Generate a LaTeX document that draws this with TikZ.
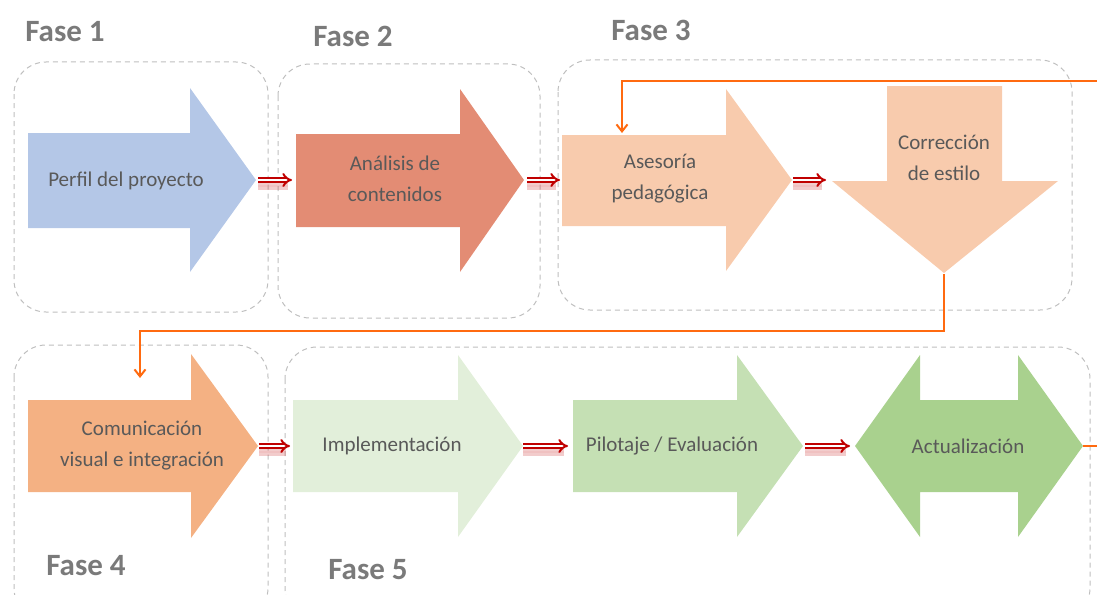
\documentclass[tikz,border=0pt]{standalone}
\usepackage{fontspec}
\setmainfont{Carlito}
\usetikzlibrary{arrows.meta}
\definecolor{boxgray}{HTML}{BFBFBF}
\definecolor{labgray}{HTML}{7A7A7A}
\definecolor{txtgray}{HTML}{595959}
\definecolor{cBlue}{HTML}{B4C7E7}
\definecolor{cRed}{HTML}{E38C74}
\definecolor{cPeach}{HTML}{F8CBAD}
\definecolor{cOrange}{HTML}{F4B183}
\definecolor{cG1}{HTML}{E2EFDA}
\definecolor{cG2}{HTML}{C5E0B4}
\definecolor{cG3}{HTML}{A9D18E}
\definecolor{linkred}{HTML}{C00000}
\definecolor{flow}{HTML}{FF6A10}
\tikzset{
  phasebox/.style={draw=boxgray, line width=1pt, dash pattern=on 5pt off 4pt, rounded corners=32pt},
  phaselab/.style={font=\fontsize{31}{33}\selectfont\bfseries, text=labgray, inner sep=0pt},
  steptext/.style={font=\fontsize{21}{31}\selectfont, text=txtgray, align=center, inner sep=0pt},
  linkarrow/.style={draw=linkred, line width=2pt, double=white, double distance=2.5pt, -{Implies[length=7pt,width=12pt]}},
  linkshadow/.style={draw=linkred, line width=3pt, opacity=0.2, double=linkred!40, double distance=2pt},
  flowline/.style={draw=flow, line width=2.5pt},
  flowarrow/.style={flowline, -{Straight Barb[length=7pt,width=11pt,line width=2pt]}}
}
\newcommand{\rarrow}[9]{%
  \fill[#9] (#1,#4) -- (#2,#4) -- (#2,#6) -- (#3,#8) -- (#2,#7) -- (#2,#5) -- (#1,#5) -- cycle;}
\begin{document}
\begin{tikzpicture}[x=1pt,y=-1pt]
\useasboundingbox (0,0) rectangle (1097,594);
% phase boxes
\draw[phasebox] (14,62) rectangle (268,312);
\draw[phasebox] (278,64) rectangle (540,318);
\draw[phasebox] (558,60) rectangle (1072,310);
\draw[phasebox] (14,345) rectangle (268,620);
\draw[phasebox] (285,347) rectangle (1090,620);
% phase labels
\node[phaselab] (f1) at (65,32) {Fase 1};
\node[phaselab] (f2) at (353,36) {Fase 2};
\node[phaselab] (f3) at (651,30) {Fase 3};
\node[phaselab] (f4) at (86,566) {Fase 4};
\node[phaselab] (f5) at (368,570) {Fase 5};
% step shapes
\rarrow{28}{190}{256}{133}{228}{88}{272}{180}{cBlue}
\rarrow{296}{460}{524}{134}{227}{89}{272}{180}{cRed}
\rarrow{562}{726}{792}{135}{226}{89}{271}{180}{cPeach}
\fill[cPeach] (887,86) -- (1002,86) -- (1002,181) -- (1058,181) -- (944,273) -- (832,181) -- (887,181) -- cycle;
\rarrow{28}{191}{258}{400}{492}{354}{538}{446}{cOrange}
\rarrow{293}{458}{523}{400}{492}{355}{537}{446}{cG1}
\rarrow{573}{737}{803}{400}{492}{355}{537}{446}{cG2}
\fill[cG3] (855,446) -- (920,355) -- (920,400) -- (1018,400) -- (1018,355) -- (1083,446) -- (1018,537) -- (1018,492) -- (920,492) -- (920,537) -- cycle;
% step texts
\node[steptext] (perfil) at (126,181) {Perfil del proyecto};
\node[steptext] (analisis) at (395,179) {Análisis de\\contenidos};
\node[steptext] (asesoria) at (660,179) {Asesoría\\pedagógica};
\node[steptext] (correccion) at (944,158) {Corrección\\de estilo};
\node[steptext] (comunicacion) at (142,446) {Comunicación\\visual e integración};
\node[steptext] (implem) at (392,446) {Implementación};
\node[steptext] (pilotaje) at (672,446) {Pilotaje / Evaluación};
\node[steptext] (actual) at (968,446) {Actualización};
% link arrows
\foreach \n/\a/\b/\y in {l1/258/292/180, l2/527/560/180, l3/793/826/180, l4/259/290/446, l5/523/568/446, l6/805/850/446}{
  \coordinate (\n s) at (\a,\y);
  \coordinate (\n e) at (\b,\y);
  \draw[linkshadow] ([yshift=-6pt]\n s) -- ([yshift=-6pt,xshift=-4pt]\n e);
  \draw[linkarrow] (\n s) -- (\n e);
}
% flow connectors
\coordinate (inTop) at (1097,81);
\coordinate (aseTop) at (622,133);
\coordinate (corTip) at (944,274);
\coordinate (comTop) at (140,378);
\coordinate (actTip) at (1083,446);
\coordinate (outRight) at (1097,446);
\draw[flowarrow] (inTop) -| (aseTop);
\draw[flowarrow] (corTip) -- (944,331) -| (comTop);
\draw[flowline] (actTip) -- (outRight);
\end{tikzpicture}
\end{document}
